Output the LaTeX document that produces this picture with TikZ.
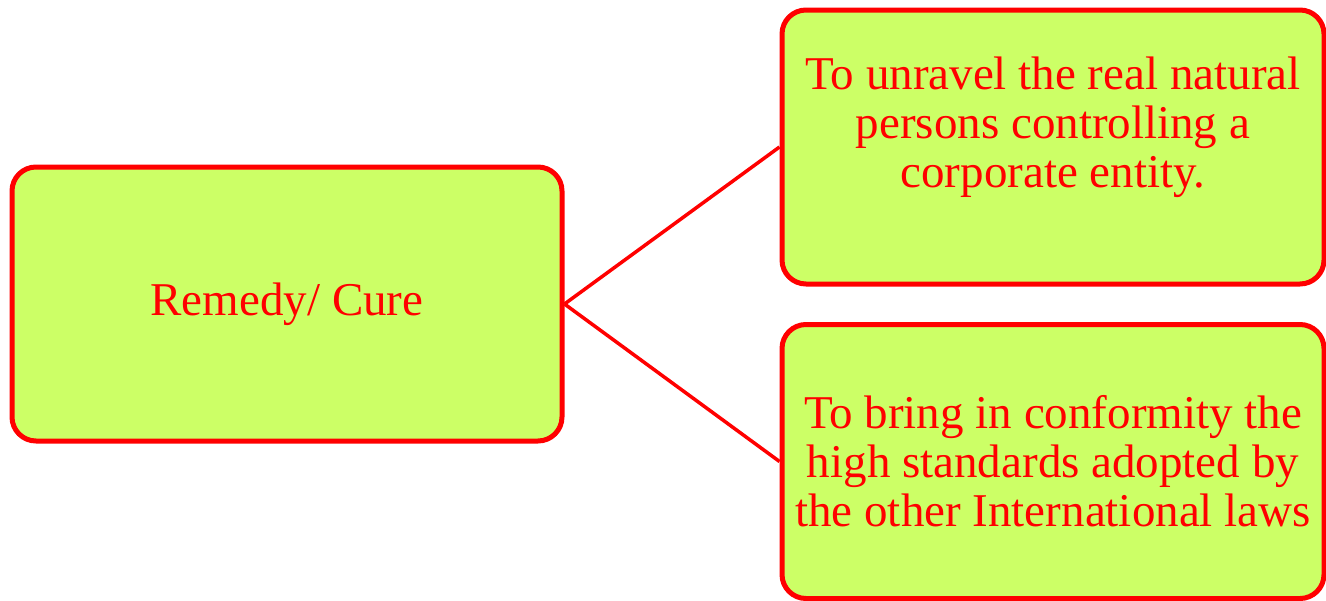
\documentclass[tikz,border=0pt]{standalone}
\usepackage{fontspec}
\setmainfont{Liberation Serif}
\definecolor{boxfill}{HTML}{CCFF66}
\definecolor{boxred}{HTML}{FF0000}
\begin{document}
\begin{tikzpicture}[x=0.5pt,y=-0.5pt,
  box/.style={draw=boxred, fill=boxfill, line width=2.5pt, rounded corners=12pt,
    inner sep=0pt, align=center, text=boxred,
    font=\fontsize{23.5}{24.5}\selectfont},
  link/.style={draw=boxred, line width=1.75pt}]
\useasboundingbox (0,0) rectangle (1326,600);
\node[box, minimum width=275pt, minimum height=137pt] (L) at (287,304) {Remedy/ Cure};
\node[box, minimum width=271pt, minimum height=137pt] (T) at (1053,147)
  {To unravel the real natural\\persons controlling a\\corporate entity.\\\mbox{}};
\node[box, minimum width=271pt, minimum height=137pt] (B) at (1053,461.5)
  {To bring in conformity the\\high standards adopted by\\the other International laws};
\draw[link] (L.east) -- (T.west);
\draw[link] (L.east) -- (B.west);
\end{tikzpicture}
\end{document}
